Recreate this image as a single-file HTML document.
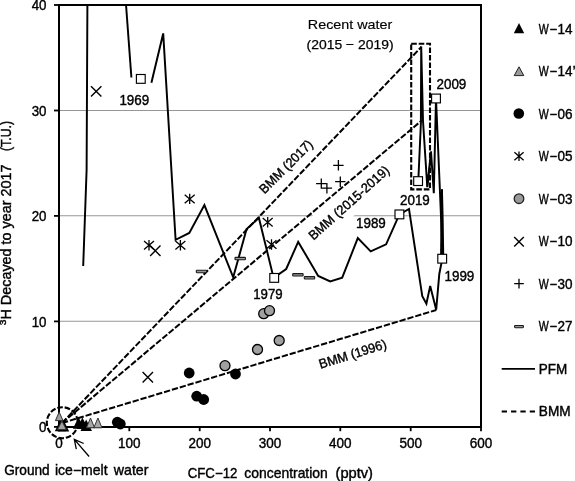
<!DOCTYPE html><html><head><meta charset="utf-8"><title>chart</title>
<style>html,body{margin:0;padding:0;background:#fff;}svg{display:block;will-change:transform;}text{font-family:"Liberation Sans",sans-serif;font-size:14.2px;fill:#000;stroke:#000;stroke-width:0.4px;}</style></head><body>
<svg width="575" height="481" viewBox="0 0 575 481">
<rect x="0" y="0" width="575" height="481" fill="#fff"/>
<line x1="59.0" y1="321.3" x2="481.0" y2="321.3" stroke="#979797" stroke-width="1.05"/>
<line x1="59.0" y1="215.8" x2="481.0" y2="215.8" stroke="#979797" stroke-width="1.05"/>
<line x1="59.0" y1="110.4" x2="481.0" y2="110.4" stroke="#979797" stroke-width="1.05"/>
<g transform="translate(313.5,240.8) rotate(-42)"><rect x="-5" y="-19.5" width="113" height="28" fill="#fff"/></g>
<path d="M59.0,426.9 L59.0,5.0 L481.0,5.0 L481.0,426.9 Z" fill="none" stroke="#000" stroke-width="2"/>
<line x1="54.0" y1="426.9" x2="59.0" y2="426.9" stroke="#000" stroke-width="1.8"/>
<line x1="54.0" y1="321.4" x2="59.0" y2="321.4" stroke="#000" stroke-width="1.8"/>
<line x1="54.0" y1="215.9" x2="59.0" y2="215.9" stroke="#000" stroke-width="1.8"/>
<line x1="54.0" y1="110.5" x2="59.0" y2="110.5" stroke="#000" stroke-width="1.8"/>
<line x1="54.0" y1="5.0" x2="59.0" y2="5.0" stroke="#000" stroke-width="1.8"/>
<line x1="59.0" y1="426.9" x2="59.0" y2="431.2" stroke="#000" stroke-width="1.8"/>
<line x1="129.3" y1="426.9" x2="129.3" y2="431.2" stroke="#000" stroke-width="1.8"/>
<line x1="199.7" y1="426.9" x2="199.7" y2="431.2" stroke="#000" stroke-width="1.8"/>
<line x1="270.0" y1="426.9" x2="270.0" y2="431.2" stroke="#000" stroke-width="1.8"/>
<line x1="340.3" y1="426.9" x2="340.3" y2="431.2" stroke="#000" stroke-width="1.8"/>
<line x1="410.7" y1="426.9" x2="410.7" y2="431.2" stroke="#000" stroke-width="1.8"/>
<line x1="481.0" y1="426.9" x2="481.0" y2="431.2" stroke="#000" stroke-width="1.8"/>
<text x="46.5" y="432.1" text-anchor="end" textLength="7.4" lengthAdjust="spacingAndGlyphs">0</text>
<text x="46.5" y="326.6" text-anchor="end" textLength="14.8" lengthAdjust="spacingAndGlyphs">10</text>
<text x="46.5" y="221.1" text-anchor="end" textLength="14.8" lengthAdjust="spacingAndGlyphs">20</text>
<text x="46.5" y="115.7" text-anchor="end" textLength="14.8" lengthAdjust="spacingAndGlyphs">30</text>
<text x="46.5" y="10.2" text-anchor="end" textLength="14.8" lengthAdjust="spacingAndGlyphs">40</text>
<text x="59.0" y="448.4" text-anchor="middle" textLength="7.5" lengthAdjust="spacingAndGlyphs">0</text>
<text x="129.3" y="448.4" text-anchor="middle" textLength="22.5" lengthAdjust="spacingAndGlyphs">100</text>
<text x="199.7" y="448.4" text-anchor="middle" textLength="22.5" lengthAdjust="spacingAndGlyphs">200</text>
<text x="270.0" y="448.4" text-anchor="middle" textLength="22.5" lengthAdjust="spacingAndGlyphs">300</text>
<text x="340.3" y="448.4" text-anchor="middle" textLength="22.5" lengthAdjust="spacingAndGlyphs">400</text>
<text x="410.7" y="448.4" text-anchor="middle" textLength="22.5" lengthAdjust="spacingAndGlyphs">500</text>
<text x="481.0" y="448.4" text-anchor="middle" textLength="22.5" lengthAdjust="spacingAndGlyphs">600</text>
<line x1="62.0" y1="423.0" x2="421.5" y2="46.8" stroke="#000" stroke-width="2" stroke-dasharray="6.3 1.9"/>
<line x1="62.0" y1="423.0" x2="421.7" y2="120.5" stroke="#000" stroke-width="2" stroke-dasharray="6.3 1.9"/>
<line x1="62.0" y1="423.0" x2="436.3" y2="310" stroke="#000" stroke-width="2" stroke-dasharray="6.3 1.9"/>
<rect x="411.2" y="43.8" width="18.8" height="145.6" fill="none" stroke="#000" stroke-width="2.1" stroke-dasharray="5.6 1.9"/>
<circle cx="62.3" cy="422.7" r="15.5" fill="none" stroke="#000" stroke-width="2.1" stroke-dasharray="5.6 1.9"/>
<polyline points="83.2,266 86.6,170 87.4,4.5" fill="none" stroke="#000" stroke-width="1.95" stroke-linejoin="miter" stroke-linecap="butt"/>
<polyline points="126,4.5 131.4,77.5" fill="none" stroke="#000" stroke-width="1.95" stroke-linejoin="miter" stroke-linecap="butt"/>
<polyline points="151.4,82.8 163.2,33.4 175.6,239.8 189.3,232.9 204.4,205.1 233.2,277.3 246.6,229.1 258.9,217.9 273.6,277.9 286.2,269 298.2,241.9 318.2,275.9 330.2,281.5 342.2,277.7 357.8,238.1 370.7,251.4 386.1,244.3 399.4,214.4 409,209 422.3,296.3 426.4,303.7 430.2,285.9 436.2,309.7 439.3,274 442.3,258.8 442.0,189.4 442.6,254 436,98.5 433.8,193.2 431.0,151.5 427.3,187.2 423.0,121 421.2,46.5 420.9,123 418.3,181" fill="none" stroke="#000" stroke-width="1.95" stroke-linejoin="miter" stroke-linecap="butt"/>
<polyline points="427.3,186.5 431.3,151.5" fill="none" stroke="#000" stroke-width="1.6" stroke-linejoin="miter" stroke-linecap="butt"/>
<path d="M440.9,189.2 L442.9,189.2 L444.2,254 L440.1,254 Z" fill="#000"/>
<path d="M54.8,431.2 L66.2,431.2 L60.5,419.8 Z" fill="#000"/>
<path d="M57.8,431.6 L69.2,431.6 L63.5,420.1 Z" fill="#000"/>
<path d="M72.8,428.8 L84.3,428.8 L78.6,417.2 Z" fill="#000"/>
<path d="M76.7,428.9 L88.2,428.9 L82.4,417.4 Z" fill="#000"/>
<path d="M80.5,431.1 L92.0,431.1 L86.2,419.6 Z" fill="#000"/>
<path d="M55.4,420.6 L63.0,420.6 L59.2,412.1 Z" fill="#a0a0a0" stroke="#333" stroke-width="1"/>
<path d="M57.5,429.5 L66.3,429.5 L61.9,420.9 Z" fill="#a0a0a0" stroke="#333" stroke-width="1"/>
<path d="M86.4,427.8 L94.6,427.8 L90.5,418.0 Z" fill="#a8a8a8" stroke="#333" stroke-width="1"/>
<path d="M93.8,427.8 L102.0,427.8 L97.9,418.0 Z" fill="#a8a8a8" stroke="#333" stroke-width="1"/>
<circle cx="117.3" cy="422.2" r="5.4" fill="#000"/>
<circle cx="120.3" cy="424.0" r="5.4" fill="#000"/>
<circle cx="189.2" cy="373" r="5.4" fill="#000"/>
<circle cx="196.7" cy="396.2" r="5.4" fill="#000"/>
<circle cx="203.7" cy="399.5" r="5.4" fill="#000"/>
<circle cx="235.5" cy="374" r="5.4" fill="#000"/>
<circle cx="225" cy="365.7" r="5.0" fill="#a0a0a0" stroke="#000" stroke-width="1.3"/>
<circle cx="257.5" cy="349.5" r="5.0" fill="#a0a0a0" stroke="#000" stroke-width="1.3"/>
<circle cx="263.7" cy="313.7" r="5.0" fill="#a0a0a0" stroke="#000" stroke-width="1.3"/>
<circle cx="269.5" cy="310.7" r="5.0" fill="#a0a0a0" stroke="#000" stroke-width="1.3"/>
<circle cx="279.2" cy="340.5" r="5.0" fill="#a0a0a0" stroke="#000" stroke-width="1.3"/>
<path d="M149,240.0 L149,250.39999999999998 M144.01,240.94 L153.99,249.46 M144.01,249.46 L153.99,240.94" stroke="#000" stroke-width="1.3" fill="none"/>
<path d="M180.4,240.0 L180.4,250.39999999999998 M175.41,240.94 L185.39,249.46 M175.41,249.46 L185.39,240.94" stroke="#000" stroke-width="1.3" fill="none"/>
<path d="M189.7,193.70000000000002 L189.7,204.1 M184.71,194.64 L194.69,203.16 M184.71,203.16 L194.69,194.64" stroke="#000" stroke-width="1.3" fill="none"/>
<path d="M267.7,217.10000000000002 L267.7,227.5 M262.71,218.04 L272.69,226.56 M262.71,226.56 L272.69,218.04" stroke="#000" stroke-width="1.3" fill="none"/>
<path d="M271.5,239.3 L271.5,249.7 M266.51,240.24 L276.49,248.76 M266.51,248.76 L276.49,240.24" stroke="#000" stroke-width="1.3" fill="none"/>
<path d="M91.0,86.2 L101.4,96.60000000000001 M91.0,96.60000000000001 L101.4,86.2" stroke="#000" stroke-width="1.4" fill="none"/>
<path d="M150.10000000000002,245.60000000000002 L160.5,256.0 M150.10000000000002,256.0 L160.5,245.60000000000002" stroke="#000" stroke-width="1.4" fill="none"/>
<path d="M142.60000000000002,372.0 L153.0,382.4 M142.60000000000002,382.4 L153.0,372.0" stroke="#000" stroke-width="1.4" fill="none"/>
<path d="M333.2,165.3 L343.59999999999997,165.3 M338.4,160.10000000000002 L338.4,170.5" stroke="#000" stroke-width="1.3" fill="none"/>
<path d="M316.1,183.6 L326.5,183.6 M321.3,178.4 L321.3,188.79999999999998" stroke="#000" stroke-width="1.3" fill="none"/>
<path d="M321.7,188.2 L332.09999999999997,188.2 M326.9,183.0 L326.9,193.39999999999998" stroke="#000" stroke-width="1.3" fill="none"/>
<path d="M335.1,181.7 L345.5,181.7 M340.3,176.5 L340.3,186.89999999999998" stroke="#000" stroke-width="1.3" fill="none"/>
<rect x="196.30" y="270.30" width="10.4" height="2.4" rx="0.6" fill="#999" stroke="#1a1a1a" stroke-width="1.1"/>
<rect x="235.00" y="257.40" width="10.4" height="2.4" rx="0.6" fill="#999" stroke="#1a1a1a" stroke-width="1.1"/>
<rect x="292.70" y="273.60" width="10.4" height="2.4" rx="0.6" fill="#999" stroke="#1a1a1a" stroke-width="1.1"/>
<rect x="304.30" y="276.60" width="10.4" height="2.4" rx="0.6" fill="#999" stroke="#1a1a1a" stroke-width="1.1"/>
<rect x="136.40" y="74.50" width="8.8" height="8.8" fill="#fff" stroke="#000" stroke-width="1.15"/>
<rect x="269.80" y="273.50" width="8.8" height="8.8" fill="#fff" stroke="#000" stroke-width="1.15"/>
<rect x="395.00" y="210.00" width="8.8" height="8.8" fill="#fff" stroke="#000" stroke-width="1.15"/>
<rect x="437.80" y="254.30" width="8.8" height="8.8" fill="#fff" stroke="#000" stroke-width="1.15"/>
<rect x="431.60" y="94.10" width="8.8" height="8.8" fill="#fff" stroke="#000" stroke-width="1.15"/>
<rect x="413.70" y="176.70" width="8.8" height="8.8" fill="#fff" stroke="#000" stroke-width="1.15"/>
<text x="119.4" y="104.5" text-anchor="start" textLength="29.8" lengthAdjust="spacingAndGlyphs">1969</text>
<text x="253.2" y="298.6" text-anchor="start" textLength="29.4" lengthAdjust="spacingAndGlyphs">1979</text>
<text x="356" y="228" text-anchor="start" textLength="29.8" lengthAdjust="spacingAndGlyphs">1989</text>
<text x="444.5" y="281" text-anchor="start" textLength="29.8" lengthAdjust="spacingAndGlyphs">1999</text>
<text x="400" y="205" text-anchor="start" textLength="29.8" lengthAdjust="spacingAndGlyphs">2019</text>
<text x="436.5" y="89" text-anchor="start" textLength="29.8" lengthAdjust="spacingAndGlyphs">2009</text>
<text x="307.8" y="29.3" text-anchor="start" textLength="84.5" lengthAdjust="spacingAndGlyphs" style="font-size:13.1px;stroke-width:0.15px">Recent water</text>
<text x="306.6" y="49.4" text-anchor="start" textLength="87" lengthAdjust="spacingAndGlyphs" style="font-size:13.6px;stroke-width:0.25px">(2015 − 2019)</text>
<text transform="translate(264.6,194.5) rotate(-45)" x="0" y="0" style="font-size:13.2px" textLength="69.5" lengthAdjust="spacingAndGlyphs">BMM (2017)</text>
<text transform="translate(313.5,240.8) rotate(-42)" x="0" y="0" style="font-size:13.2px" textLength="103.5" lengthAdjust="spacingAndGlyphs">BMM (2015-2019)</text>
<text transform="translate(320.6,368.8) rotate(-17.3)" x="0" y="0" style="font-size:13.2px" textLength="70" lengthAdjust="spacingAndGlyphs">BMM (1996)</text>
<path d="M89.1,456.5 L74.3,439.4 M76.3,449.1 L74.3,439.4 L83.7,443.5" fill="none" stroke="#000" stroke-width="1.3" stroke-linejoin="miter"/>
<text x="4.2" y="474.8" text-anchor="start" textLength="45.5" lengthAdjust="spacingAndGlyphs">Ground</text>
<text x="55.0" y="474.8" text-anchor="start" textLength="52.6" lengthAdjust="spacingAndGlyphs">ice−melt</text>
<text x="113.8" y="474.8" text-anchor="start" textLength="34.7" lengthAdjust="spacingAndGlyphs">water</text>
<text x="187.7" y="478.3" text-anchor="start" textLength="49.7" lengthAdjust="spacingAndGlyphs">CFC−12</text>
<text x="244.3" y="478.3" text-anchor="start" textLength="83.5" lengthAdjust="spacingAndGlyphs">concentration</text>
<text x="335.5" y="478.3" text-anchor="start" textLength="37.5" lengthAdjust="spacingAndGlyphs">(pptv)</text>
<g transform="translate(11.3,328.5) rotate(-90)">
<text x="3.3" y="-4.9" style="font-size:8.3px" textLength="5.6" lengthAdjust="spacingAndGlyphs">3</text>
<text x="9" y="0" textLength="155" lengthAdjust="spacingAndGlyphs">H Decayed to year 2017</text>
<text x="177.5" y="0" textLength="30" lengthAdjust="spacingAndGlyphs">(T.U.)</text>
</g>
<path d="M513.8,33.3 L524.2,33.3 L519.0,22.9 Z" fill="#000"/>
<path d="M514.2,75.6 L523.8,75.6 L519.0,66.8 Z" fill="#9a9a9a" stroke="#222" stroke-width="1"/>
<circle cx="518.8" cy="113.5" r="5.3" fill="#000"/>
<path d="M519,151.39999999999998 L519,161.0 M514.39,152.26 L523.61,160.14 M514.39,160.14 L523.61,152.26" stroke="#000" stroke-width="1.3" fill="none"/>
<circle cx="519" cy="198.7" r="4.8" fill="#9a9a9a" stroke="#222" stroke-width="1.3"/>
<path d="M514.2,236.89999999999998 L523.8,246.5 M514.2,246.5 L523.8,236.89999999999998" stroke="#000" stroke-width="1.4" fill="none"/>
<path d="M514.2,283.6 L523.8,283.6 M519,278.8 L519,288.40000000000003" stroke="#000" stroke-width="1.3" fill="none"/>
<rect x="514.60" y="325.50" width="8.8" height="2.2" rx="0.6" fill="#999" stroke="#1a1a1a" stroke-width="1.1"/>
<line x1="501.7" y1="368.9" x2="535" y2="368.9" stroke="#000" stroke-width="1.9"/>
<line x1="501.7" y1="411.5" x2="535" y2="411.5" stroke="#000" stroke-width="1.9" stroke-dasharray="5.3 4.05"/>
<text x="538.8" y="33.9" text-anchor="start" textLength="10.0" lengthAdjust="spacingAndGlyphs">W</text>
<text x="549.6" y="33.9" text-anchor="start" textLength="7.6" lengthAdjust="spacingAndGlyphs">−</text>
<text x="557.6" y="33.9" text-anchor="start" textLength="15.0" lengthAdjust="spacingAndGlyphs">14</text>
<text x="538.8" y="76.4" text-anchor="start" textLength="10.0" lengthAdjust="spacingAndGlyphs">W</text>
<text x="549.6" y="76.4" text-anchor="start" textLength="7.6" lengthAdjust="spacingAndGlyphs">−</text>
<text x="557.6" y="76.4" text-anchor="start" textLength="15.0" lengthAdjust="spacingAndGlyphs">14</text>
<text x="572.6" y="76.4" text-anchor="start" textLength="3.2" lengthAdjust="spacingAndGlyphs">’</text>
<text x="538.8" y="118.9" text-anchor="start" textLength="10.0" lengthAdjust="spacingAndGlyphs">W</text>
<text x="549.6" y="118.9" text-anchor="start" textLength="7.6" lengthAdjust="spacingAndGlyphs">−</text>
<text x="557.6" y="118.9" text-anchor="start" textLength="15.0" lengthAdjust="spacingAndGlyphs">06</text>
<text x="538.8" y="161.4" text-anchor="start" textLength="10.0" lengthAdjust="spacingAndGlyphs">W</text>
<text x="549.6" y="161.4" text-anchor="start" textLength="7.6" lengthAdjust="spacingAndGlyphs">−</text>
<text x="557.6" y="161.4" text-anchor="start" textLength="15.0" lengthAdjust="spacingAndGlyphs">05</text>
<text x="538.8" y="203.9" text-anchor="start" textLength="10.0" lengthAdjust="spacingAndGlyphs">W</text>
<text x="549.6" y="203.9" text-anchor="start" textLength="7.6" lengthAdjust="spacingAndGlyphs">−</text>
<text x="557.6" y="203.9" text-anchor="start" textLength="15.0" lengthAdjust="spacingAndGlyphs">03</text>
<text x="538.8" y="246.4" text-anchor="start" textLength="10.0" lengthAdjust="spacingAndGlyphs">W</text>
<text x="549.6" y="246.4" text-anchor="start" textLength="7.6" lengthAdjust="spacingAndGlyphs">−</text>
<text x="557.6" y="246.4" text-anchor="start" textLength="15.0" lengthAdjust="spacingAndGlyphs">10</text>
<text x="538.8" y="288.9" text-anchor="start" textLength="10.0" lengthAdjust="spacingAndGlyphs">W</text>
<text x="549.6" y="288.9" text-anchor="start" textLength="7.6" lengthAdjust="spacingAndGlyphs">−</text>
<text x="557.6" y="288.9" text-anchor="start" textLength="15.0" lengthAdjust="spacingAndGlyphs">30</text>
<text x="538.8" y="331.4" text-anchor="start" textLength="10.0" lengthAdjust="spacingAndGlyphs">W</text>
<text x="549.6" y="331.4" text-anchor="start" textLength="7.6" lengthAdjust="spacingAndGlyphs">−</text>
<text x="557.6" y="331.4" text-anchor="start" textLength="15.0" lengthAdjust="spacingAndGlyphs">27</text>
<text x="538.8" y="373.9" text-anchor="start" textLength="28.5" lengthAdjust="spacingAndGlyphs">PFM</text>
<text x="538.8" y="416.4" text-anchor="start" textLength="31.8" lengthAdjust="spacingAndGlyphs">BMM</text>
</svg></body></html>
